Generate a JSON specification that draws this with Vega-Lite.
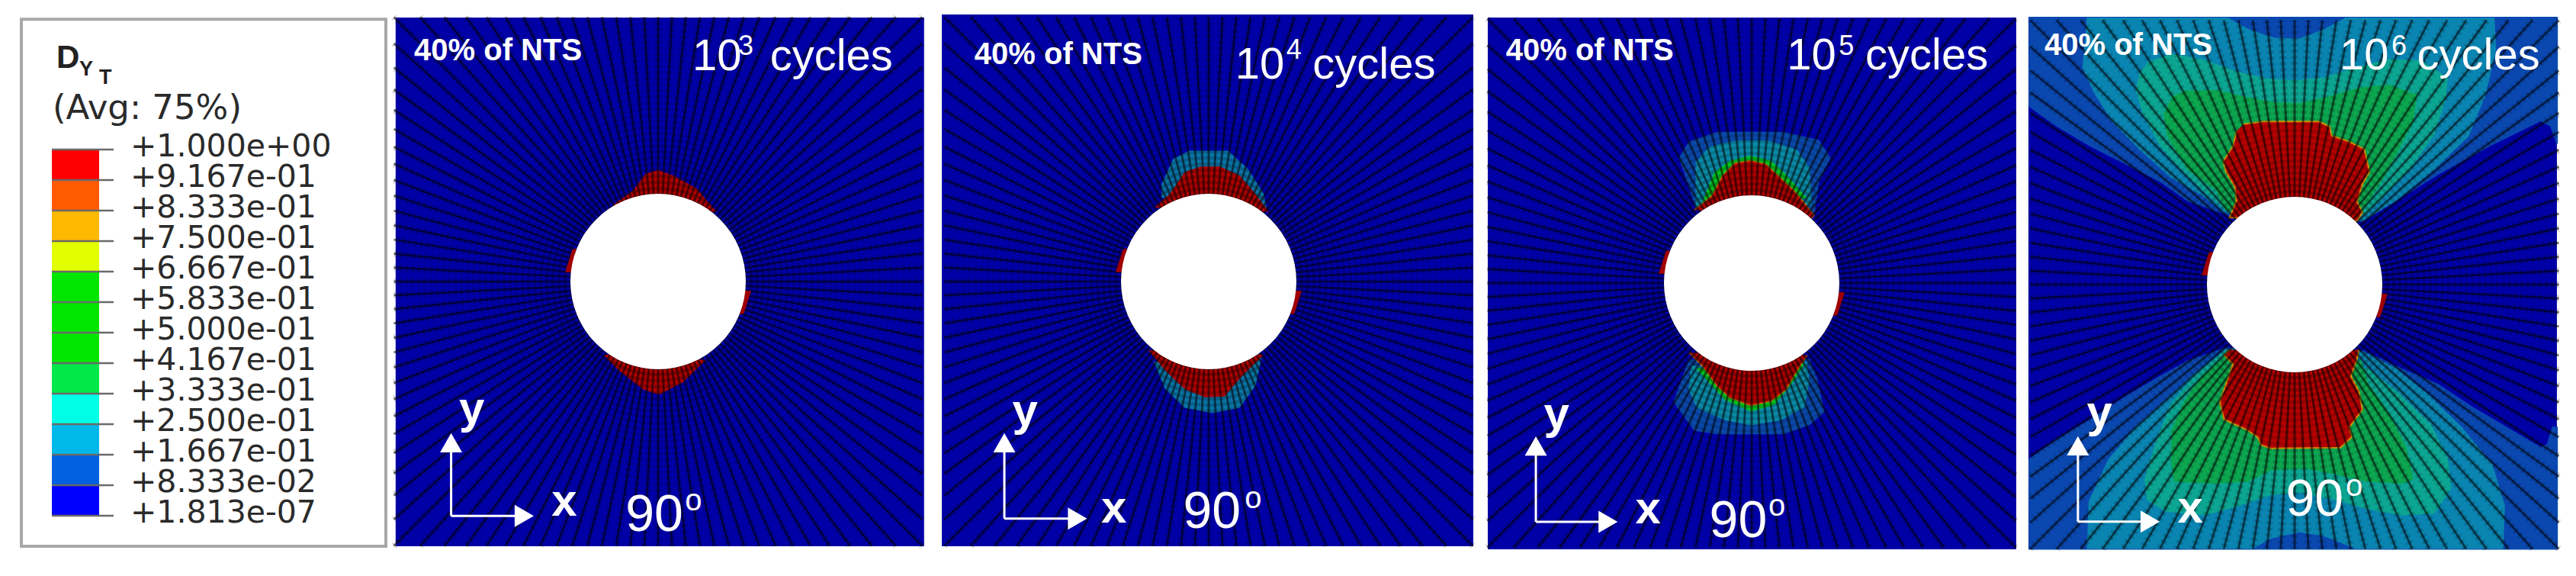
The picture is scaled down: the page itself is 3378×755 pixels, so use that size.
{
"$schema":"https://vega.github.io/schema/vega-lite/v6.json",
"description":"Damage contour D_YT around a hole at 40% of NTS, 90 degree plies, after 10^3 to 10^6 cycles",
"background":"white",
"padding":{"left":26,"top":17,"right":0,"bottom":0},
"spacing":0,
"resolve":{"scale":{"fill":"independent","stroke":"independent"}},
"config":{
"view":{"stroke":null},
"axis":{"disable":true},
"legend":{"disable":true},
"text":{"align":"left","baseline":"alphabetic","font":"Liberation Sans","color":"white"}
},
"datasets":{
"legendLevels":[
{"label":"+1.000e+00","value":1,"lower":0.9167},
{"label":"+9.167e-01","value":0.9167,"lower":0.8333},
{"label":"+8.333e-01","value":0.8333,"lower":0.75},
{"label":"+7.500e-01","value":0.75,"lower":0.6667},
{"label":"+6.667e-01","value":0.6667,"lower":0.5833},
{"label":"+5.833e-01","value":0.5833,"lower":0.5},
{"label":"+5.000e-01","value":0.5,"lower":0.4167},
{"label":"+4.167e-01","value":0.4167,"lower":0.3333},
{"label":"+3.333e-01","value":0.3333,"lower":0.25},
{"label":"+2.500e-01","value":0.25,"lower":0.1667},
{"label":"+1.667e-01","value":0.1667,"lower":0.0833},
{"label":"+8.333e-02","value":0.0833,"lower":0.0000001813},
{"label":"+1.813e-07","value":0.0000001813}
],
"mesh":[
{"x":3,"y":0},{"x":3,"y":0.157},{"x":3,"y":0.315},{"x":3,"y":0.475},{"x":3,"y":0.638},{"x":3,"y":0.804},{"x":3,"y":0.975},{"x":3,"y":1.152},{"x":3,"y":1.336},{"x":3,"y":1.529},{"x":3,"y":1.732},{"x":3,"y":1.948},{"x":3,"y":2.18},{"x":3,"y":2.429},{"x":3,"y":2.701},{"x":3,"y":3},
{"x":3,"y":-0.157},{"x":3,"y":-0.315},{"x":3,"y":-0.475},{"x":3,"y":-0.638},{"x":3,"y":-0.804},{"x":3,"y":-0.975},{"x":3,"y":-1.152},{"x":3,"y":-1.336},{"x":3,"y":-1.529},{"x":3,"y":-1.732},{"x":3,"y":-1.948},{"x":3,"y":-2.18},{"x":3,"y":-2.429},{"x":3,"y":-2.701},{"x":3,"y":-3},
{"x":-3,"y":0},{"x":-3,"y":0.157},{"x":-3,"y":0.315},{"x":-3,"y":0.475},{"x":-3,"y":0.638},{"x":-3,"y":0.804},{"x":-3,"y":0.975},{"x":-3,"y":1.152},{"x":-3,"y":1.336},{"x":-3,"y":1.529},{"x":-3,"y":1.732},{"x":-3,"y":1.948},{"x":-3,"y":2.18},{"x":-3,"y":2.429},{"x":-3,"y":2.701},{"x":-3,"y":3},
{"x":-3,"y":-0.157},{"x":-3,"y":-0.315},{"x":-3,"y":-0.475},{"x":-3,"y":-0.638},{"x":-3,"y":-0.804},{"x":-3,"y":-0.975},{"x":-3,"y":-1.152},{"x":-3,"y":-1.336},{"x":-3,"y":-1.529},{"x":-3,"y":-1.732},{"x":-3,"y":-1.948},{"x":-3,"y":-2.18},{"x":-3,"y":-2.429},{"x":-3,"y":-2.701},{"x":-3,"y":-3},
{"x":0,"y":3},{"x":0.157,"y":3},{"x":0.315,"y":3},{"x":0.475,"y":3},{"x":0.638,"y":3},{"x":0.804,"y":3},{"x":0.975,"y":3},{"x":1.152,"y":3},{"x":1.336,"y":3},{"x":1.529,"y":3},{"x":1.732,"y":3},{"x":1.948,"y":3},{"x":2.18,"y":3},{"x":2.429,"y":3},{"x":2.701,"y":3},
{"x":-0.157,"y":3},{"x":-0.315,"y":3},{"x":-0.475,"y":3},{"x":-0.638,"y":3},{"x":-0.804,"y":3},{"x":-0.975,"y":3},{"x":-1.152,"y":3},{"x":-1.336,"y":3},{"x":-1.529,"y":3},{"x":-1.732,"y":3},{"x":-1.948,"y":3},{"x":-2.18,"y":3},{"x":-2.429,"y":3},{"x":-2.701,"y":3},
{"x":0,"y":-3},{"x":0.157,"y":-3},{"x":0.315,"y":-3},{"x":0.475,"y":-3},{"x":0.638,"y":-3},{"x":0.804,"y":-3},{"x":0.975,"y":-3},{"x":1.152,"y":-3},{"x":1.336,"y":-3},{"x":1.529,"y":-3},{"x":1.732,"y":-3},{"x":1.948,"y":-3},{"x":2.18,"y":-3},{"x":2.429,"y":-3},{"x":2.701,"y":-3},
{"x":-0.157,"y":-3},{"x":-0.315,"y":-3},{"x":-0.475,"y":-3},{"x":-0.638,"y":-3},{"x":-0.804,"y":-3},{"x":-0.975,"y":-3},{"x":-1.152,"y":-3},{"x":-1.336,"y":-3},{"x":-1.529,"y":-3},{"x":-1.732,"y":-3},{"x":-1.948,"y":-3},{"x":-2.18,"y":-3},{"x":-2.429,"y":-3},{"x":-2.701,"y":-3}
],
"slivers":[
{"part":"left","i":1,"x":-0.93,"y":0.37},{"part":"left","i":2,"x":-0.97,"y":0.36},{"part":"left","i":3,"x":-1.05,"y":0.11},{"part":"left","i":4,"x":-0.98,"y":0.11},
{"part":"right","i":1,"x":0.93,"y":-0.37},{"part":"right","i":2,"x":0.97,"y":-0.36},{"part":"right","i":3,"x":1.05,"y":-0.11},{"part":"right","i":4,"x":0.98,"y":-0.11}
],
"cycles3":[
{"part":"top","level":"0.917","i":1,"x":-0.52,"y":0.86},{"part":"top","level":"0.917","i":2,"x":-0.28,"y":1.03},{"part":"top","level":"0.917","i":3,"x":-0.14,"y":1.22},{"part":"top","level":"0.917","i":4,"x":0,"y":1.26},{"part":"top","level":"0.917","i":5,"x":0.17,"y":1.2},{"part":"top","level":"0.917","i":6,"x":0.44,"y":1.05},{"part":"top","level":"0.917","i":7,"x":0.66,"y":0.79},
{"part":"bottom","level":"0.917","i":1,"x":-0.62,"y":-0.83},{"part":"bottom","level":"0.917","i":2,"x":-0.44,"y":-1.01},{"part":"bottom","level":"0.917","i":3,"x":-0.17,"y":-1.22},{"part":"bottom","level":"0.917","i":4,"x":0.01,"y":-1.28},{"part":"bottom","level":"0.917","i":5,"x":0.28,"y":-1.14},{"part":"bottom","level":"0.917","i":6,"x":0.54,"y":-0.89}
],
"cycles4":[
{"part":"top","level":"0.167","i":1,"x":-0.53,"y":0.95},{"part":"top","level":"0.167","i":2,"x":-0.53,"y":1.11},{"part":"top","level":"0.167","i":3,"x":-0.4,"y":1.39},{"part":"top","level":"0.167","i":4,"x":-0.22,"y":1.48},{"part":"top","level":"0.167","i":5,"x":0.22,"y":1.48},{"part":"top","level":"0.167","i":6,"x":0.44,"y":1.28},{"part":"top","level":"0.167","i":7,"x":0.62,"y":1},{"part":"top","level":"0.167","i":8,"x":0.66,"y":0.8},
{"part":"bottom","level":"0.167","i":1,"x":-0.62,"y":-0.91},{"part":"bottom","level":"0.167","i":2,"x":-0.49,"y":-1.22},{"part":"bottom","level":"0.167","i":3,"x":-0.27,"y":-1.43},{"part":"bottom","level":"0.167","i":4,"x":0.04,"y":-1.49},{"part":"bottom","level":"0.167","i":5,"x":0.35,"y":-1.43},{"part":"bottom","level":"0.167","i":6,"x":0.53,"y":-1.18},{"part":"bottom","level":"0.167","i":7,"x":0.6,"y":-0.85},
{"part":"top","level":"0.917","i":1,"x":-0.61,"y":0.84},{"part":"top","level":"0.917","i":2,"x":-0.44,"y":0.99},{"part":"top","level":"0.917","i":3,"x":-0.27,"y":1.24},{"part":"top","level":"0.917","i":4,"x":-0.09,"y":1.3},{"part":"top","level":"0.917","i":5,"x":0.13,"y":1.3},{"part":"top","level":"0.917","i":6,"x":0.35,"y":1.2},{"part":"top","level":"0.917","i":7,"x":0.53,"y":0.99},{"part":"top","level":"0.917","i":8,"x":0.68,"y":0.79},
{"part":"bottom","level":"0.917","i":1,"x":-0.68,"y":-0.78},{"part":"bottom","level":"0.917","i":2,"x":-0.49,"y":-1.01},{"part":"bottom","level":"0.917","i":3,"x":-0.27,"y":-1.22},{"part":"bottom","level":"0.917","i":4,"x":-0.04,"y":-1.31},{"part":"bottom","level":"0.917","i":5,"x":0.18,"y":-1.3},{"part":"bottom","level":"0.917","i":6,"x":0.35,"y":-1.1},{"part":"bottom","level":"0.917","i":7,"x":0.62,"y":-0.83}
],
"cycles5":[
{"part":"top","level":"0.083","i":1,"x":-0.63,"y":0.85},{"part":"top","level":"0.083","i":2,"x":-0.76,"y":1.25},{"part":"top","level":"0.083","i":3,"x":-0.82,"y":1.42},{"part":"top","level":"0.083","i":4,"x":-0.71,"y":1.6},{"part":"top","level":"0.083","i":5,"x":-0.39,"y":1.71},{"part":"top","level":"0.083","i":6,"x":0.36,"y":1.71},{"part":"top","level":"0.083","i":7,"x":0.76,"y":1.62},{"part":"top","level":"0.083","i":8,"x":0.89,"y":1.42},{"part":"top","level":"0.083","i":9,"x":0.76,"y":1.16},{"part":"top","level":"0.083","i":10,"x":0.71,"y":0.79},
{"part":"bottom","level":"0.083","i":1,"x":-0.71,"y":-0.87},{"part":"bottom","level":"0.083","i":2,"x":-0.88,"y":-1.35},{"part":"bottom","level":"0.083","i":3,"x":-0.65,"y":-1.67},{"part":"bottom","level":"0.083","i":4,"x":-0.39,"y":-1.71},{"part":"bottom","level":"0.083","i":5,"x":0.36,"y":-1.71},{"part":"bottom","level":"0.083","i":6,"x":0.65,"y":-1.61},{"part":"bottom","level":"0.083","i":7,"x":0.82,"y":-1.46},{"part":"bottom","level":"0.083","i":8,"x":0.74,"y":-1.09},{"part":"bottom","level":"0.083","i":9,"x":0.65,"y":-0.86},
{"part":"top","level":"0.167","i":1,"x":-0.63,"y":0.85},{"part":"top","level":"0.167","i":2,"x":-0.63,"y":1.37},{"part":"top","level":"0.167","i":3,"x":-0.48,"y":1.54},{"part":"top","level":"0.167","i":4,"x":-0.19,"y":1.61},{"part":"top","level":"0.167","i":5,"x":0.19,"y":1.61},{"part":"top","level":"0.167","i":6,"x":0.51,"y":1.51},{"part":"top","level":"0.167","i":7,"x":0.65,"y":1.31},{"part":"top","level":"0.167","i":8,"x":0.68,"y":0.88},
{"part":"bottom","level":"0.167","i":1,"x":-0.68,"y":-0.94},{"part":"bottom","level":"0.167","i":2,"x":-0.71,"y":-1.2},{"part":"bottom","level":"0.167","i":3,"x":-0.62,"y":-1.41},{"part":"bottom","level":"0.167","i":4,"x":-0.3,"y":-1.55},{"part":"bottom","level":"0.167","i":5,"x":-0.01,"y":-1.61},{"part":"bottom","level":"0.167","i":6,"x":0.33,"y":-1.55},{"part":"bottom","level":"0.167","i":7,"x":0.59,"y":-1.41},{"part":"bottom","level":"0.167","i":8,"x":0.65,"y":-1.12},{"part":"bottom","level":"0.167","i":9,"x":0.62,"y":-0.89},
{"part":"top","level":"0.333","i":1,"x":-0.56,"y":0.9},{"part":"top","level":"0.333","i":2,"x":-0.42,"y":1.25},{"part":"top","level":"0.333","i":3,"x":-0.25,"y":1.38},{"part":"top","level":"0.333","i":4,"x":-0.01,"y":1.44},{"part":"top","level":"0.333","i":5,"x":0.22,"y":1.38},{"part":"top","level":"0.333","i":6,"x":0.39,"y":1.22},{"part":"top","level":"0.333","i":7,"x":0.62,"y":0.96},
{"part":"bottom","level":"0.333","i":1,"x":-0.62,"y":-0.97},{"part":"bottom","level":"0.333","i":2,"x":-0.51,"y":-1.09},{"part":"bottom","level":"0.333","i":3,"x":-0.3,"y":-1.32},{"part":"bottom","level":"0.333","i":4,"x":-0.01,"y":-1.45},{"part":"bottom","level":"0.333","i":5,"x":0.25,"y":-1.38},{"part":"bottom","level":"0.333","i":6,"x":0.45,"y":-1.14},{"part":"bottom","level":"0.333","i":7,"x":0.59,"y":-0.92},
{"part":"top","level":"0.917","i":1,"x":-0.65,"y":0.83},{"part":"top","level":"0.917","i":2,"x":-0.45,"y":0.99},{"part":"top","level":"0.917","i":3,"x":-0.33,"y":1.22},{"part":"top","level":"0.917","i":4,"x":-0.19,"y":1.36},{"part":"top","level":"0.917","i":5,"x":-0.01,"y":1.39},{"part":"top","level":"0.917","i":6,"x":0.16,"y":1.35},{"part":"top","level":"0.917","i":7,"x":0.33,"y":1.19},{"part":"top","level":"0.917","i":8,"x":0.48,"y":1.05},{"part":"top","level":"0.917","i":9,"x":0.71,"y":0.77},{"part":"top","level":"0.917","i":10,"x":0.65,"y":0.7},
{"part":"bottom","level":"0.917","i":1,"x":-0.71,"y":-0.79},{"part":"bottom","level":"0.917","i":2,"x":-0.56,"y":-0.94},{"part":"bottom","level":"0.917","i":3,"x":-0.39,"y":-1.17},{"part":"bottom","level":"0.917","i":4,"x":-0.25,"y":-1.3},{"part":"bottom","level":"0.917","i":5,"x":-0.01,"y":-1.39},{"part":"bottom","level":"0.917","i":6,"x":0.22,"y":-1.34},{"part":"bottom","level":"0.917","i":7,"x":0.39,"y":-1.21},{"part":"bottom","level":"0.917","i":8,"x":0.51,"y":-1},{"part":"bottom","level":"0.917","i":9,"x":0.63,"y":-0.82}
],
"cycles6":[
{"part":"top","level":"0.083","i":1,"x":-3.02,"y":3.03},{"part":"top","level":"0.083","i":2,"x":2.98,"y":3.03},{"part":"top","level":"0.083","i":3,"x":2.98,"y":1.6},{"part":"top","level":"0.083","i":4,"x":2.91,"y":1.8},{"part":"top","level":"0.083","i":5,"x":2.79,"y":1.86},{"part":"top","level":"0.083","i":6,"x":2.2,"y":1.57},{"part":"top","level":"0.083","i":7,"x":1.62,"y":1.25},{"part":"top","level":"0.083","i":8,"x":1.03,"y":0.88},{"part":"top","level":"0.083","i":9,"x":0.77,"y":0.72},{"part":"top","level":"0.083","i":10,"x":-0.74,"y":0.79},{"part":"top","level":"0.083","i":11,"x":-1.21,"y":0.95},{"part":"top","level":"0.083","i":12,"x":-1.52,"y":1.17},{"part":"top","level":"0.083","i":13,"x":-1.91,"y":1.37},{"part":"top","level":"0.083","i":14,"x":-2.31,"y":1.57},{"part":"top","level":"0.083","i":15,"x":-2.7,"y":1.8},{"part":"top","level":"0.083","i":16,"x":-3.02,"y":2.03},
{"part":"bottom","level":"0.083","i":1,"x":-3.02,"y":-1.99},{"part":"bottom","level":"0.083","i":2,"x":-2.7,"y":-1.76},{"part":"bottom","level":"0.083","i":3,"x":-2.31,"y":-1.53},{"part":"bottom","level":"0.083","i":4,"x":-1.91,"y":-1.27},{"part":"bottom","level":"0.083","i":5,"x":-1.52,"y":-1.04},{"part":"bottom","level":"0.083","i":6,"x":-1.21,"y":-0.87},{"part":"bottom","level":"0.083","i":7,"x":-0.78,"y":-0.72},{"part":"bottom","level":"0.083","i":8,"x":0.77,"y":-0.75},{"part":"bottom","level":"0.083","i":9,"x":1.22,"y":-0.96},{"part":"bottom","level":"0.083","i":10,"x":1.62,"y":-1.13},{"part":"bottom","level":"0.083","i":11,"x":2.01,"y":-1.39},{"part":"bottom","level":"0.083","i":12,"x":2.4,"y":-1.62},{"part":"bottom","level":"0.083","i":13,"x":2.79,"y":-1.85},{"part":"bottom","level":"0.083","i":14,"x":2.87,"y":-1.82},{"part":"bottom","level":"0.083","i":15,"x":2.93,"y":-1.62},{"part":"bottom","level":"0.083","i":16,"x":2.98,"y":-1.62},{"part":"bottom","level":"0.083","i":17,"x":2.98,"y":-3},{"part":"bottom","level":"0.083","i":18,"x":-3.02,"y":-3},
{"part":"top","level":"0.167","i":1,"x":-2.35,"y":3.03},{"part":"top","level":"0.167","i":2,"x":-2.4,"y":2.46},{"part":"top","level":"0.167","i":3,"x":-2.27,"y":2.18},{"part":"top","level":"0.167","i":4,"x":-2.07,"y":1.86},{"part":"top","level":"0.167","i":5,"x":-1.76,"y":1.54},{"part":"top","level":"0.167","i":6,"x":-1.4,"y":1.22},{"part":"top","level":"0.167","i":7,"x":-1.05,"y":1.02},{"part":"top","level":"0.167","i":8,"x":-0.78,"y":0.82},{"part":"top","level":"0.167","i":9,"x":0.77,"y":0.73},{"part":"top","level":"0.167","i":10,"x":1.15,"y":0.96},{"part":"top","level":"0.167","i":11,"x":1.58,"y":1.31},{"part":"top","level":"0.167","i":12,"x":1.97,"y":1.69},{"part":"top","level":"0.167","i":13,"x":2.16,"y":2.15},{"part":"top","level":"0.167","i":14,"x":2.28,"y":2.67},{"part":"top","level":"0.167","i":15,"x":2.26,"y":3.03},
{"part":"bottom","level":"0.167","i":1,"x":-2.35,"y":-3},{"part":"bottom","level":"0.167","i":2,"x":-2.33,"y":-2.46},{"part":"bottom","level":"0.167","i":3,"x":-2.11,"y":-1.99},{"part":"bottom","level":"0.167","i":4,"x":-1.8,"y":-1.62},{"part":"bottom","level":"0.167","i":5,"x":-1.44,"y":-1.3},{"part":"bottom","level":"0.167","i":6,"x":-1.13,"y":-1.01},{"part":"bottom","level":"0.167","i":7,"x":-0.78,"y":-0.74},{"part":"bottom","level":"0.167","i":8,"x":0.77,"y":-0.77},{"part":"bottom","level":"0.167","i":9,"x":1.15,"y":-0.96},{"part":"bottom","level":"0.167","i":10,"x":1.5,"y":-1.24},{"part":"bottom","level":"0.167","i":11,"x":1.89,"y":-1.62},{"part":"bottom","level":"0.167","i":12,"x":2.24,"y":-2.05},{"part":"bottom","level":"0.167","i":13,"x":2.38,"y":-2.51},{"part":"bottom","level":"0.167","i":14,"x":2.36,"y":-3},
{"part":"top pocket","level":"0.083","i":1,"x":-0.74,"y":3.03},{"part":"top pocket","level":"0.083","i":2,"x":-0.5,"y":2.9},{"part":"top pocket","level":"0.083","i":3,"x":-0.23,"y":2.81},{"part":"top pocket","level":"0.083","i":4,"x":0.05,"y":2.8},{"part":"top pocket","level":"0.083","i":5,"x":0.32,"y":2.9},{"part":"top pocket","level":"0.083","i":6,"x":0.56,"y":3.03},
{"part":"bottom pocket","level":"0.083","i":1,"x":-0.46,"y":-3},{"part":"bottom pocket","level":"0.083","i":2,"x":-0.27,"y":-2.89},{"part":"bottom pocket","level":"0.083","i":3,"x":0.05,"y":-2.82},{"part":"bottom pocket","level":"0.083","i":4,"x":0.32,"y":-2.86},{"part":"bottom pocket","level":"0.083","i":5,"x":0.67,"y":-3},
{"part":"top","level":"0.250","i":1,"x":-1.76,"y":2.38},{"part":"top","level":"0.250","i":2,"x":-1.66,"y":2.52},{"part":"top","level":"0.250","i":3,"x":-1.4,"y":2.61},{"part":"top","level":"0.250","i":4,"x":-1.05,"y":2.55},{"part":"top","level":"0.250","i":5,"x":-0.66,"y":2.41},{"part":"top","level":"0.250","i":6,"x":-0.31,"y":2.33},{"part":"top","level":"0.250","i":7,"x":0.01,"y":2.31},{"part":"top","level":"0.250","i":8,"x":0.36,"y":2.35},{"part":"top","level":"0.250","i":9,"x":0.71,"y":2.46},{"part":"top","level":"0.250","i":10,"x":1.07,"y":2.55},{"part":"top","level":"0.250","i":11,"x":1.42,"y":2.54},{"part":"top","level":"0.250","i":12,"x":1.73,"y":2.35},{"part":"top","level":"0.250","i":13,"x":1.71,"y":2.12},{"part":"top","level":"0.250","i":14,"x":1.58,"y":1.71},{"part":"top","level":"0.250","i":15,"x":1.3,"y":1.31},{"part":"top","level":"0.250","i":16,"x":0.99,"y":0.99},{"part":"top","level":"0.250","i":17,"x":0.79,"y":0.79},{"part":"top","level":"0.250","i":18,"x":-0.74,"y":0.82},{"part":"top","level":"0.250","i":19,"x":-1.01,"y":1.05},{"part":"top","level":"0.250","i":20,"x":-1.25,"y":1.28},{"part":"top","level":"0.250","i":21,"x":-1.52,"y":1.57},{"part":"top","level":"0.250","i":22,"x":-1.72,"y":1.95},{"part":"top","level":"0.250","i":23,"x":-1.8,"y":2.23},
{"part":"bottom","level":"0.250","i":1,"x":-1.68,"y":-2.43},{"part":"bottom","level":"0.250","i":2,"x":-1.46,"y":-2.57},{"part":"bottom","level":"0.250","i":3,"x":-1.01,"y":-2.61},{"part":"bottom","level":"0.250","i":4,"x":-0.66,"y":-2.51},{"part":"bottom","level":"0.250","i":5,"x":-0.27,"y":-2.38},{"part":"bottom","level":"0.250","i":6,"x":0.05,"y":-2.35},{"part":"bottom","level":"0.250","i":7,"x":0.44,"y":-2.43},{"part":"bottom","level":"0.250","i":8,"x":0.83,"y":-2.54},{"part":"bottom","level":"0.250","i":9,"x":1.22,"y":-2.61},{"part":"bottom","level":"0.250","i":10,"x":1.58,"y":-2.59},{"part":"bottom","level":"0.250","i":11,"x":1.77,"y":-2.31},{"part":"bottom","level":"0.250","i":12,"x":1.73,"y":-1.97},{"part":"bottom","level":"0.250","i":13,"x":1.54,"y":-1.59},{"part":"bottom","level":"0.250","i":14,"x":1.18,"y":-1.24},{"part":"bottom","level":"0.250","i":15,"x":0.83,"y":-0.96},{"part":"bottom","level":"0.250","i":16,"x":-0.78,"y":-0.75},{"part":"bottom","level":"0.250","i":17,"x":-1.13,"y":-1.04},{"part":"bottom","level":"0.250","i":18,"x":-1.4,"y":-1.36},{"part":"bottom","level":"0.250","i":19,"x":-1.56,"y":-1.76},{"part":"bottom","level":"0.250","i":20,"x":-1.7,"y":-2.23},
{"part":"top","level":"0.333","i":1,"x":-1.4,"y":2.12},{"part":"top","level":"0.333","i":2,"x":-1.25,"y":2.19},{"part":"top","level":"0.333","i":3,"x":-0.89,"y":2.2},{"part":"top","level":"0.333","i":4,"x":-0.54,"y":2.12},{"part":"top","level":"0.333","i":5,"x":-0.23,"y":2.06},{"part":"top","level":"0.333","i":6,"x":0.05,"y":2.05},{"part":"top","level":"0.333","i":7,"x":0.36,"y":2.12},{"part":"top","level":"0.333","i":8,"x":0.75,"y":2.23},{"part":"top","level":"0.333","i":9,"x":1.07,"y":2.26},{"part":"top","level":"0.333","i":10,"x":1.38,"y":2.15},{"part":"top","level":"0.333","i":11,"x":1.34,"y":1.86},{"part":"top","level":"0.333","i":12,"x":1.15,"y":1.48},{"part":"top","level":"0.333","i":13,"x":0.99,"y":1.19},{"part":"top","level":"0.333","i":14,"x":0.75,"y":0.82},{"part":"top","level":"0.333","i":15,"x":-0.78,"y":0.85},{"part":"top","level":"0.333","i":16,"x":-0.89,"y":1.08},{"part":"top","level":"0.333","i":17,"x":-1.21,"y":1.31},{"part":"top","level":"0.333","i":18,"x":-1.44,"y":1.69},{"part":"top","level":"0.333","i":19,"x":-1.48,"y":1.95},
{"part":"bottom","level":"0.333","i":1,"x":-1.4,"y":-1.97},{"part":"bottom","level":"0.333","i":2,"x":-1.36,"y":-2.23},{"part":"bottom","level":"0.333","i":3,"x":-0.89,"y":-2.25},{"part":"bottom","level":"0.333","i":4,"x":-0.54,"y":-2.23},{"part":"bottom","level":"0.333","i":5,"x":-0.27,"y":-2.1},{"part":"bottom","level":"0.333","i":6,"x":0.13,"y":-2.08},{"part":"bottom","level":"0.333","i":7,"x":0.44,"y":-2.14},{"part":"bottom","level":"0.333","i":8,"x":0.83,"y":-2.23},{"part":"bottom","level":"0.333","i":9,"x":1.22,"y":-2.25},{"part":"bottom","level":"0.333","i":10,"x":1.34,"y":-2.2},{"part":"bottom","level":"0.333","i":11,"x":1.26,"y":-1.85},{"part":"bottom","level":"0.333","i":12,"x":1.07,"y":-1.47},{"part":"bottom","level":"0.333","i":13,"x":0.83,"y":-1.13},{"part":"bottom","level":"0.333","i":14,"x":0.75,"y":-0.87},{"part":"bottom","level":"0.333","i":15,"x":-0.78,"y":-0.81},{"part":"bottom","level":"0.333","i":16,"x":-1.05,"y":-1.04},{"part":"bottom","level":"0.333","i":17,"x":-1.25,"y":-1.33},{"part":"bottom","level":"0.333","i":18,"x":-1.4,"y":-1.68},
{"part":"top","level":"0.917","i":1,"x":-0.58,"y":1.82},{"part":"top","level":"0.917","i":2,"x":-0.35,"y":1.85},{"part":"top","level":"0.917","i":3,"x":0.28,"y":1.85},{"part":"top","level":"0.917","i":4,"x":0.4,"y":1.79},{"part":"top","level":"0.917","i":5,"x":0.42,"y":1.69},{"part":"top","level":"0.917","i":6,"x":0.6,"y":1.63},{"part":"top","level":"0.917","i":7,"x":0.79,"y":1.54},{"part":"top","level":"0.917","i":8,"x":0.83,"y":1.37},{"part":"top","level":"0.917","i":9,"x":0.85,"y":1.28},{"part":"top","level":"0.917","i":10,"x":0.77,"y":1.14},{"part":"top","level":"0.917","i":11,"x":0.71,"y":0.94},{"part":"top","level":"0.917","i":12,"x":0.77,"y":0.82},{"part":"top","level":"0.917","i":13,"x":0.71,"y":0.72},{"part":"top","level":"0.917","i":14,"x":-0.74,"y":0.76},{"part":"top","level":"0.917","i":15,"x":-0.66,"y":0.95},{"part":"top","level":"0.917","i":16,"x":-0.68,"y":1.11},{"part":"top","level":"0.917","i":17,"x":-0.78,"y":1.28},{"part":"top","level":"0.917","i":18,"x":-0.81,"y":1.4},{"part":"top","level":"0.917","i":19,"x":-0.7,"y":1.57},{"part":"top","level":"0.917","i":20,"x":-0.66,"y":1.74},
{"part":"bottom","level":"0.917","i":1,"x":-0.74,"y":-0.74},{"part":"bottom","level":"0.917","i":2,"x":-0.8,"y":-0.8},{"part":"bottom","level":"0.917","i":3,"x":-0.7,"y":-0.9},{"part":"bottom","level":"0.917","i":4,"x":-0.78,"y":-1.13},{"part":"bottom","level":"0.917","i":5,"x":-0.85,"y":-1.33},{"part":"bottom","level":"0.917","i":6,"x":-0.8,"y":-1.53},{"part":"bottom","level":"0.917","i":7,"x":-0.54,"y":-1.65},{"part":"bottom","level":"0.917","i":8,"x":-0.42,"y":-1.73},{"part":"bottom","level":"0.917","i":9,"x":-0.38,"y":-1.82},{"part":"bottom","level":"0.917","i":10,"x":-0.27,"y":-1.86},{"part":"bottom","level":"0.917","i":11,"x":0.52,"y":-1.85},{"part":"bottom","level":"0.917","i":12,"x":0.65,"y":-1.73},{"part":"bottom","level":"0.917","i":13,"x":0.62,"y":-1.62},{"part":"bottom","level":"0.917","i":14,"x":0.77,"y":-1.42},{"part":"bottom","level":"0.917","i":15,"x":0.73,"y":-1.21},{"part":"bottom","level":"0.917","i":16,"x":0.64,"y":-1.04},{"part":"bottom","level":"0.917","i":17,"x":0.71,"y":-0.84},{"part":"bottom","level":"0.917","i":18,"x":0.73,"y":-0.74}
]
},
"hconcat":[
{
"width":483,"height":701,
"data":{"name":"legendLevels"},
"layer":[
{"data":{"values":[{}]},"mark":{"type":"rect","fill":"white","stroke":"#a8a8a8","strokeWidth":4},
"encoding":{"x":{"datum":0,"type":"quantitative","scale":{"domain":[0,483],"nice":false,"zero":false}},"x2":{"datum":478},"y":{"datum":1.356,"type":"quantitative","scale":{"domain":[-0.0917,1.369],"nice":false,"zero":false}},"y2":{"datum":-0.0833}}},
{"transform":[{"filter":"isValid(datum.lower)"}],"mark":{"type":"rect"},
"encoding":{"x":{"datum":40,"type":"quantitative"},"x2":{"datum":102},"y":{"field":"value","type":"quantitative"},"y2":{"field":"lower"},
"fill":{"field":"label","type":"nominal","sort":null,"scale":{"domain":["+1.000e+00","+9.167e-01","+8.333e-01","+7.500e-01","+6.667e-01","+5.833e-01","+5.000e-01","+4.167e-01","+3.333e-01","+2.500e-01","+1.667e-01","+8.333e-02"],"range":["#ff0000","#ff5a00","#ffb900","#e2ff00","#00e600","#00e600","#00e600","#00e84a","#00ffe6","#00b9ea","#0062e0","#0000ff"]}}}},
{"mark":{"type":"rule","color":"#6a6a6a","strokeWidth":2.5},
"encoding":{"x":{"datum":40,"type":"quantitative"},"x2":{"datum":121},"y":{"field":"value","type":"quantitative"}}},
{"mark":{"type":"text","font":"DejaVu Sans","fontSize":41,"color":"#2a2a2a","baseline":"middle","dy":-3},
"encoding":{"x":{"datum":143,"type":"quantitative"},"y":{"field":"value","type":"quantitative"},"text":{"field":"label"}}},
{"data":{"values":[{}]},"mark":{"type":"text","text":"D","fontSize":42,"fontWeight":"bold","color":"#222222"},"encoding":{"x":{"datum":46,"type":"quantitative"},"y":{"datum":1.223,"type":"quantitative"}}},
{"data":{"values":[{}]},"mark":{"type":"text","text":"Y","fontSize":27,"fontWeight":"bold","color":"#222222"},"encoding":{"x":{"datum":76,"type":"quantitative"},"y":{"datum":1.202,"type":"quantitative"}}},
{"data":{"values":[{}]},"mark":{"type":"text","text":"T","fontSize":27,"fontWeight":"bold","color":"#222222"},"encoding":{"x":{"datum":102,"type":"quantitative"},"y":{"datum":1.179,"type":"quantitative"}}},
{"data":{"values":[{}]},"mark":{"type":"text","text":"(Avg: 75%)","font":"DejaVu Sans","fontSize":45,"color":"#2a2a2a"},"encoding":{"x":{"datum":41,"type":"quantitative"},"y":{"datum":1.083,"type":"quantitative"}}}
]
},
{
"width":709,"height":701,
"data":{"values":[{}]},
"layer":[
{"mark":{"type":"rect","fill":"#0000a6"},"encoding":{"x":{"datum":-2.98,"type":"quantitative","scale":{"domain":[-3.0216,3.1169],"nice":false,"zero":false}},"x2":{"datum":3.02},"y":{"datum":2.996,"type":"quantitative","scale":{"domain":[-3.039,3.03],"nice":false,"zero":false}},"y2":{"datum":-3.004}}},
{"data":{"name":"cycles3"},"mark":{"type":"line","strokeWidth":1},"encoding":{"x":{"field":"x","type":"quantitative"},"y":{"field":"y","type":"quantitative"},"order":{"field":"i","type":"quantitative"},"detail":{"field":"part"},"fill":{"field":"level","type":"nominal","scale":{"domain":["0.917"],"range":["#b00000"]}},"stroke":{"field":"level","type":"nominal","scale":{"domain":["0.917"],"range":["#b00000"]}}}},
{"data":{"name":"mesh"},"mark":{"type":"rule","color":"#000000","opacity":0.55,"strokeWidth":3},"encoding":{"x":{"datum":0,"type":"quantitative"},"y":{"datum":0,"type":"quantitative"},"x2":{"field":"x","type":"quantitative"},"y2":{"field":"y","type":"quantitative"}}},
{"data":{"name":"mesh"},"mark":{"type":"rule","color":"#000000","opacity":0.15,"strokeWidth":9,"strokeDash":[4,4]},"encoding":{"x":{"datum":0,"type":"quantitative"},"y":{"datum":0,"type":"quantitative"},"x2":{"field":"x","type":"quantitative"},"y2":{"field":"y","type":"quantitative"}}},
{"data":{"name":"slivers"},"mark":{"type":"line","strokeWidth":1,"fill":"#a00000","stroke":"#a00000"},"encoding":{"x":{"field":"x","type":"quantitative"},"y":{"field":"y","type":"quantitative"},"order":{"field":"i","type":"quantitative"},"detail":{"field":"part"}}},
{"mark":{"type":"point","filled":true,"fill":"white","opacity":1,"size":52900},"encoding":{"x":{"datum":0,"type":"quantitative"},"y":{"datum":0,"type":"quantitative"}}},
{"mark":{"type":"text","text":"40% of NTS","fontSize":40,"fontWeight":"bold"},"encoding":{"x":{"datum":-2.77,"type":"quantitative"},"y":{"datum":2.51,"type":"quantitative"}}},
{"mark":{"type":"text","text":"10","fontSize":58},"encoding":{"x":{"datum":0.39,"type":"quantitative"},"y":{"datum":2.4,"type":"quantitative"}}},
{"mark":{"type":"text","text":"3","fontSize":36},"encoding":{"x":{"datum":0.91,"type":"quantitative"},"y":{"datum":2.57,"type":"quantitative"}}},
{"mark":{"type":"text","text":"cycles","fontSize":58},"encoding":{"x":{"datum":1.27,"type":"quantitative"},"y":{"datum":2.4,"type":"quantitative"}}},
{"mark":{"type":"text","text":"90","fontSize":68},"encoding":{"x":{"datum":-0.37,"type":"quantitative"},"y":{"datum":-2.83,"type":"quantitative"}}},
{"mark":{"type":"text","text":"o","fontSize":40},"encoding":{"x":{"datum":0.305,"type":"quantitative"},"y":{"datum":-2.6,"type":"quantitative"}}},
{"mark":{"type":"text","text":"x","fontSize":60,"fontWeight":"bold"},"encoding":{"x":{"datum":-1.21,"type":"quantitative"},"y":{"datum":-2.66,"type":"quantitative"}}},
{"mark":{"type":"text","text":"y","fontSize":60,"fontWeight":"bold"},"encoding":{"x":{"datum":-2.26,"type":"quantitative"},"y":{"datum":-1.61,"type":"quantitative"}}},
{"mark":{"type":"rule","color":"white","strokeWidth":3},"encoding":{"x":{"datum":-2.35,"type":"quantitative"},"y":{"datum":-2.66,"type":"quantitative"},"y2":{"datum":-1.8}}},
{"mark":{"type":"rule","color":"white","strokeWidth":3},"encoding":{"x":{"datum":-2.35,"type":"quantitative"},"x2":{"datum":-1.5},"y":{"datum":-2.66,"type":"quantitative"}}},
{"mark":{"type":"point","shape":"triangle-up","filled":true,"fill":"white","opacity":1,"size":841},"encoding":{"x":{"datum":-2.35,"type":"quantitative"},"y":{"datum":-1.83,"type":"quantitative"}}},
{"mark":{"type":"point","shape":"triangle-right","filled":true,"fill":"white","opacity":1,"size":841},"encoding":{"x":{"datum":-1.52,"type":"quantitative"},"y":{"datum":-2.66,"type":"quantitative"}}}
]
},
{
"width":719,"height":701,
"data":{"values":[{}]},
"layer":[
{"mark":{"type":"rect","fill":"#0000a6"},"encoding":{"x":{"datum":-3.03,"type":"quantitative","scale":{"domain":[-3.1342,3.0909],"nice":false,"zero":false}},"x2":{"datum":3.004},"y":{"datum":3.03,"type":"quantitative","scale":{"domain":[-3.039,3.03],"nice":false,"zero":false}},"y2":{"datum":-3.004}}},
{"data":{"name":"cycles4"},"mark":{"type":"line","strokeWidth":1},"encoding":{"x":{"field":"x","type":"quantitative"},"y":{"field":"y","type":"quantitative"},"order":{"field":"i","type":"quantitative"},"detail":{"field":"part"},"fill":{"field":"level","type":"nominal","scale":{"domain":["0.167","0.917"],"range":["#0a74a6","#b00000"]}},"stroke":{"field":"level","type":"nominal","scale":{"domain":["0.167","0.917"],"range":["#0a74a6","#b00000"]}}}},
{"data":{"name":"mesh"},"mark":{"type":"rule","color":"#000000","opacity":0.55,"strokeWidth":3},"encoding":{"x":{"datum":0,"type":"quantitative"},"y":{"datum":0,"type":"quantitative"},"x2":{"field":"x","type":"quantitative"},"y2":{"field":"y","type":"quantitative"}}},
{"data":{"name":"mesh"},"mark":{"type":"rule","color":"#000000","opacity":0.15,"strokeWidth":9,"strokeDash":[4,4]},"encoding":{"x":{"datum":0,"type":"quantitative"},"y":{"datum":0,"type":"quantitative"},"x2":{"field":"x","type":"quantitative"},"y2":{"field":"y","type":"quantitative"}}},
{"data":{"name":"slivers"},"mark":{"type":"line","strokeWidth":1,"fill":"#a00000","stroke":"#a00000"},"encoding":{"x":{"field":"x","type":"quantitative"},"y":{"field":"y","type":"quantitative"},"order":{"field":"i","type":"quantitative"},"detail":{"field":"part"}}},
{"mark":{"type":"point","filled":true,"fill":"white","opacity":1,"size":52900},"encoding":{"x":{"datum":0,"type":"quantitative"},"y":{"datum":0,"type":"quantitative"}}},
{"mark":{"type":"text","text":"40% of NTS","fontSize":40,"fontWeight":"bold"},"encoding":{"x":{"datum":-2.66,"type":"quantitative"},"y":{"datum":2.47,"type":"quantitative"}}},
{"mark":{"type":"text","text":"10","fontSize":58},"encoding":{"x":{"datum":0.3,"type":"quantitative"},"y":{"datum":2.3,"type":"quantitative"}}},
{"mark":{"type":"text","text":"4","fontSize":36},"encoding":{"x":{"datum":0.88,"type":"quantitative"},"y":{"datum":2.53,"type":"quantitative"}}},
{"mark":{"type":"text","text":"cycles","fontSize":58},"encoding":{"x":{"datum":1.18,"type":"quantitative"},"y":{"datum":2.3,"type":"quantitative"}}},
{"mark":{"type":"text","text":"90","fontSize":68},"encoding":{"x":{"datum":-0.29,"type":"quantitative"},"y":{"datum":-2.8,"type":"quantitative"}}},
{"mark":{"type":"text","text":"o","fontSize":40},"encoding":{"x":{"datum":0.41,"type":"quantitative"},"y":{"datum":-2.57,"type":"quantitative"}}},
{"mark":{"type":"text","text":"x","fontSize":60,"fontWeight":"bold"},"encoding":{"x":{"datum":-1.22,"type":"quantitative"},"y":{"datum":-2.74,"type":"quantitative"}}},
{"mark":{"type":"text","text":"y","fontSize":60,"fontWeight":"bold"},"encoding":{"x":{"datum":-2.23,"type":"quantitative"},"y":{"datum":-1.64,"type":"quantitative"}}},
{"mark":{"type":"rule","color":"white","strokeWidth":3},"encoding":{"x":{"datum":-2.32,"type":"quantitative"},"y":{"datum":-2.69,"type":"quantitative"},"y2":{"datum":-1.8}}},
{"mark":{"type":"rule","color":"white","strokeWidth":3},"encoding":{"x":{"datum":-2.32,"type":"quantitative"},"x2":{"datum":-1.47},"y":{"datum":-2.69,"type":"quantitative"}}},
{"mark":{"type":"point","shape":"triangle-up","filled":true,"fill":"white","opacity":1,"size":841},"encoding":{"x":{"datum":-2.32,"type":"quantitative"},"y":{"datum":-1.83,"type":"quantitative"}}},
{"mark":{"type":"point","shape":"triangle-right","filled":true,"fill":"white","opacity":1,"size":841},"encoding":{"x":{"datum":-1.49,"type":"quantitative"},"y":{"datum":-2.69,"type":"quantitative"}}}
]
},
{
"width":710,"height":701,
"data":{"values":[{}]},
"layer":[
{"mark":{"type":"rect","fill":"#0000a6"},"encoding":{"x":{"datum":-2.996,"type":"quantitative","scale":{"domain":[-3.0736,3.0736],"nice":false,"zero":false}},"x2":{"datum":3.004},"y":{"datum":3.013,"type":"quantitative","scale":{"domain":[-3.0216,3.0476],"nice":false,"zero":false}},"y2":{"datum":-3.022}}},
{"data":{"name":"cycles5"},"mark":{"type":"line","strokeWidth":1.5},"encoding":{"x":{"field":"x","type":"quantitative"},"y":{"field":"y","type":"quantitative"},"order":{"field":"i","type":"quantitative"},"detail":{"field":"part"},"fill":{"field":"level","type":"nominal","scale":{"domain":["0.083","0.167","0.333","0.917"],"range":["#0a48a8","#0a8aa6","#00c020","#b00000"]}},"stroke":{"field":"level","type":"nominal","scale":{"domain":["0.083","0.167","0.333","0.917"],"range":["#0a48a8","#0a8aa6","#00c020","#c86000"]}}}},
{"data":{"name":"mesh"},"mark":{"type":"rule","color":"#000000","opacity":0.55,"strokeWidth":3},"encoding":{"x":{"datum":0,"type":"quantitative"},"y":{"datum":0,"type":"quantitative"},"x2":{"field":"x","type":"quantitative"},"y2":{"field":"y","type":"quantitative"}}},
{"data":{"name":"mesh"},"mark":{"type":"rule","color":"#000000","opacity":0.15,"strokeWidth":9,"strokeDash":[4,4]},"encoding":{"x":{"datum":0,"type":"quantitative"},"y":{"datum":0,"type":"quantitative"},"x2":{"field":"x","type":"quantitative"},"y2":{"field":"y","type":"quantitative"}}},
{"data":{"name":"slivers"},"mark":{"type":"line","strokeWidth":1,"fill":"#a00000","stroke":"#a00000"},"encoding":{"x":{"field":"x","type":"quantitative"},"y":{"field":"y","type":"quantitative"},"order":{"field":"i","type":"quantitative"},"detail":{"field":"part"}}},
{"mark":{"type":"point","filled":true,"fill":"white","opacity":1,"size":52900},"encoding":{"x":{"datum":0,"type":"quantitative"},"y":{"datum":0,"type":"quantitative"}}},
{"mark":{"type":"text","text":"40% of NTS","fontSize":40,"fontWeight":"bold"},"encoding":{"x":{"datum":-2.79,"type":"quantitative"},"y":{"datum":2.53,"type":"quantitative"}}},
{"mark":{"type":"text","text":"10","fontSize":58},"encoding":{"x":{"datum":0.4,"type":"quantitative"},"y":{"datum":2.42,"type":"quantitative"}}},
{"mark":{"type":"text","text":"5","fontSize":36},"encoding":{"x":{"datum":0.99,"type":"quantitative"},"y":{"datum":2.59,"type":"quantitative"}}},
{"mark":{"type":"text","text":"cycles","fontSize":58},"encoding":{"x":{"datum":1.29,"type":"quantitative"},"y":{"datum":2.42,"type":"quantitative"}}},
{"mark":{"type":"text","text":"90","fontSize":68},"encoding":{"x":{"datum":-0.48,"type":"quantitative"},"y":{"datum":-2.88,"type":"quantitative"}}},
{"mark":{"type":"text","text":"o","fontSize":40},"encoding":{"x":{"datum":0.19,"type":"quantitative"},"y":{"datum":-2.64,"type":"quantitative"}}},
{"mark":{"type":"text","text":"x","fontSize":60,"fontWeight":"bold"},"encoding":{"x":{"datum":-1.32,"type":"quantitative"},"y":{"datum":-2.73,"type":"quantitative"}}},
{"mark":{"type":"text","text":"y","fontSize":60,"fontWeight":"bold"},"encoding":{"x":{"datum":-2.36,"type":"quantitative"},"y":{"datum":-1.65,"type":"quantitative"}}},
{"mark":{"type":"rule","color":"white","strokeWidth":3},"encoding":{"x":{"datum":-2.45,"type":"quantitative"},"y":{"datum":-2.71,"type":"quantitative"},"y2":{"datum":-1.82}}},
{"mark":{"type":"rule","color":"white","strokeWidth":3},"encoding":{"x":{"datum":-2.45,"type":"quantitative"},"x2":{"datum":-1.6},"y":{"datum":-2.71,"type":"quantitative"}}},
{"mark":{"type":"point","shape":"triangle-up","filled":true,"fill":"white","opacity":1,"size":841},"encoding":{"x":{"datum":-2.45,"type":"quantitative"},"y":{"datum":-1.85,"type":"quantitative"}}},
{"mark":{"type":"point","shape":"triangle-right","filled":true,"fill":"white","opacity":1,"size":841},"encoding":{"x":{"datum":-1.63,"type":"quantitative"},"y":{"datum":-2.71,"type":"quantitative"}}}
]
},
{
"width":702,"height":701,
"data":{"values":[{}]},
"layer":[
{"mark":{"type":"rect","fill":"#0000a6"},"encoding":{"x":{"datum":-3.022,"type":"quantitative","scale":{"domain":[-3.0909,2.987],"nice":false,"zero":false}},"x2":{"datum":2.978},"y":{"datum":3.03,"type":"quantitative","scale":{"domain":[-3.004,3.0649],"nice":false,"zero":false}},"y2":{"datum":-3.004}}},
{"data":{"name":"cycles6"},"mark":{"type":"line","strokeWidth":2},"encoding":{"x":{"field":"x","type":"quantitative"},"y":{"field":"y","type":"quantitative"},"order":{"field":"i","type":"quantitative"},"detail":{"field":"part"},"fill":{"field":"level","type":"nominal","scale":{"domain":["0.083","0.167","0.250","0.333","0.917"],"range":["#0a48b0","#0a84b0","#0ca592","#0ca650","#b50000"]}},"stroke":{"field":"level","type":"nominal","scale":{"domain":["0.083","0.167","0.250","0.333","0.917"],"range":["#0a48b0","#0a84b0","#0ca592","#0ca650","#d09000"]}}}},
{"data":{"name":"mesh"},"mark":{"type":"rule","color":"#000000","opacity":0.55,"strokeWidth":3},"encoding":{"x":{"datum":0,"type":"quantitative"},"y":{"datum":0,"type":"quantitative"},"x2":{"field":"x","type":"quantitative"},"y2":{"field":"y","type":"quantitative"}}},
{"data":{"name":"mesh"},"mark":{"type":"rule","color":"#000000","opacity":0.15,"strokeWidth":9,"strokeDash":[4,4]},"encoding":{"x":{"datum":0,"type":"quantitative"},"y":{"datum":0,"type":"quantitative"},"x2":{"field":"x","type":"quantitative"},"y2":{"field":"y","type":"quantitative"}}},
{"data":{"name":"slivers"},"mark":{"type":"line","strokeWidth":1,"fill":"#a00000","stroke":"#a00000"},"encoding":{"x":{"field":"x","type":"quantitative"},"y":{"field":"y","type":"quantitative"},"order":{"field":"i","type":"quantitative"},"detail":{"field":"part"}}},
{"mark":{"type":"point","filled":true,"fill":"white","opacity":1,"size":52900},"encoding":{"x":{"datum":0,"type":"quantitative"},"y":{"datum":0,"type":"quantitative"}}},
{"mark":{"type":"text","text":"40% of NTS","fontSize":40,"fontWeight":"bold"},"encoding":{"x":{"datum":-2.84,"type":"quantitative"},"y":{"datum":2.61,"type":"quantitative"}}},
{"mark":{"type":"text","text":"10","fontSize":58},"encoding":{"x":{"datum":0.51,"type":"quantitative"},"y":{"datum":2.44,"type":"quantitative"}}},
{"mark":{"type":"text","text":"6","fontSize":36},"encoding":{"x":{"datum":1.1,"type":"quantitative"},"y":{"datum":2.61,"type":"quantitative"}}},
{"mark":{"type":"text","text":"cycles","fontSize":58},"encoding":{"x":{"datum":1.39,"type":"quantitative"},"y":{"datum":2.44,"type":"quantitative"}}},
{"mark":{"type":"text","text":"90","fontSize":68},"encoding":{"x":{"datum":-0.1,"type":"quantitative"},"y":{"datum":-2.62,"type":"quantitative"}}},
{"mark":{"type":"text","text":"o","fontSize":40},"encoding":{"x":{"datum":0.58,"type":"quantitative"},"y":{"datum":-2.4,"type":"quantitative"}}},
{"mark":{"type":"text","text":"x","fontSize":60,"fontWeight":"bold"},"encoding":{"x":{"datum":-1.33,"type":"quantitative"},"y":{"datum":-2.7,"type":"quantitative"}}},
{"mark":{"type":"text","text":"y","fontSize":60,"fontWeight":"bold"},"encoding":{"x":{"datum":-2.36,"type":"quantitative"},"y":{"datum":-1.62,"type":"quantitative"}}},
{"mark":{"type":"rule","color":"white","strokeWidth":3},"encoding":{"x":{"datum":-2.46,"type":"quantitative"},"y":{"datum":-2.69,"type":"quantitative"},"y2":{"datum":-1.8}}},
{"mark":{"type":"rule","color":"white","strokeWidth":3},"encoding":{"x":{"datum":-2.46,"type":"quantitative"},"x2":{"datum":-1.61},"y":{"datum":-2.69,"type":"quantitative"}}},
{"mark":{"type":"point","shape":"triangle-up","filled":true,"fill":"white","opacity":1,"size":841},"encoding":{"x":{"datum":-2.46,"type":"quantitative"},"y":{"datum":-1.83,"type":"quantitative"}}},
{"mark":{"type":"point","shape":"triangle-right","filled":true,"fill":"white","opacity":1,"size":841},"encoding":{"x":{"datum":-1.64,"type":"quantitative"},"y":{"datum":-2.69,"type":"quantitative"}}}
]
}
]
}
